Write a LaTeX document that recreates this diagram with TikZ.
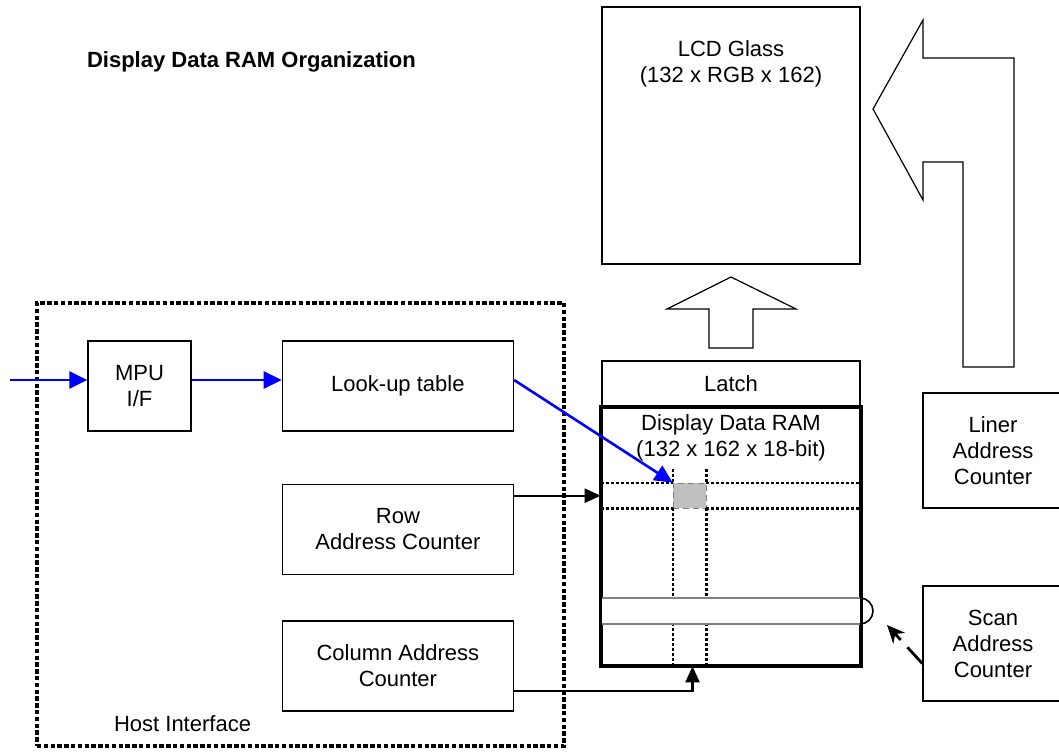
\documentclass[tikz,border=0pt]{standalone}
\usepackage{fontspec}
\setmainfont{Liberation Sans}
\usetikzlibrary{arrows.meta,positioning}
\begin{document}
\begin{tikzpicture}[x=0.5pt, y=-0.5pt, line join=miter,
  every node/.style={font=\fontsize{11}{13}\selectfont},
  box/.style={draw, line width=0.7pt, minimum width=115.5pt, minimum height=45pt, inner sep=0pt, align=center},
  panel/.style={draw, line width=0.7pt, fill=white, minimum width=129pt, inner sep=0pt, align=center},
  hostbox/.style={draw, line width=1.6pt, dash pattern=on 2.2pt off 1.2pt},
  dotline/.style={line width=1.1pt, dash pattern=on 1.5pt off 1pt},
  bluearrow/.style={blue, line width=1.3pt, -{Triangle[length=9pt,width=8.5pt]}},
  blkarrow/.style={line width=1.1pt, -{Triangle[length=8pt,width=7pt]}},
  scanarrow/.style={line width=1.4pt, dash pattern=on 11pt off 5pt, -{Stealth[length=9pt,width=8pt]}},
  fatarrow/.style={draw, line width=0.6pt}]
  \useasboundingbox (0,0) rectangle (1059,753);
  \node[anchor=west, font=\fontsize{11}{13}\selectfont\bfseries] (title) at (80,62) {Display Data RAM Organization};
  % host side
  \node[hostbox, minimum width=263.5pt, minimum height=221.5pt] (host) at (300.5,524.5) {};
  \node[anchor=west] (hostlbl) at (107,724) {Host Interface};
  \node[box, minimum width=51.5pt] (mpu) at (139.5,386) {MPU\\I/F};
  \node[box, right=45pt of mpu] (lut) {Look-up table};
  \node[box, below=26pt of lut] (row) {Row\\Address Counter};
  \node[box, below=22.5pt of row] (col) {Column Address\\Counter};
  % panel side
  \node[panel, minimum height=128.5pt] (lcd) at (731,135.5) {};
  \node[align=center] (lcdtxt) at (731,64) {LCD Glass\\(132 x RGB x 162)};
  \node[panel, minimum height=22.5pt] (latch) at (731,383.5) {Latch};
  \node[panel, line width=1.3pt, minimum height=128.5pt, below=0pt of latch] (ram) {};
  \node[align=center] (ramtxt) at (731,438) {Display Data RAM\\(132 x 162 x 18-bit)};
  \node[box, minimum width=70pt, minimum height=57.5pt] (liner) at (993,450.5) {Liner\\Address\\Counter};
  \node[box, minimum width=70pt, minimum height=57.5pt] (scan) at (993,643.5) {Scan\\Address\\Counter};
  % cell grid
  \node[draw=gray, densely dashed, line width=0.4pt, fill=black!25, minimum width=16.5pt, minimum height=12.5pt, inner sep=0pt] (cell) at (689.5,495.5) {};
  \draw[dotline] (ram.west |- cell.north) -- (cell.north west);
  \draw[dotline] (cell.north east) -- (ram.east |- cell.north);
  \draw[dotline] (ram.west |- cell.south) -- (cell.south west);
  \draw[dotline] (cell.south east) -- (ram.east |- cell.south);
  \draw[dotline] ([yshift=7pt]cell.north west) -- (cell.north west);
  \draw[dotline] ([yshift=7pt]cell.north east) -- (cell.north east);
  \draw[dotline] (cell.south west) -- (cell.south west |- ram.south);
  \draw[dotline] (cell.south east) -- (cell.south east |- ram.south);
  \fill[white] (602,598) rectangle (860,624);
  \draw[gray, line width=0.6pt] (602,598) -- (860,598);
  \draw[gray, line width=0.6pt] (602,624) -- (860,624);
  \draw[line width=0.8pt] (860,598) arc[start angle=90, end angle=-90, radius=6.5pt];
  \draw[line width=1.3pt] (ram.north west) rectangle (ram.south east);
  % fat arrows
  \draw[fatarrow] (731,277) -- (796,309) -- (753,309) -- (753,348) -- (709,348) -- (709,309) -- (667,309) -- cycle;
  \draw[fatarrow] (873,109) -- (923,20) -- (923,58) -- (1014,58) -- (1014,367) -- (963,367) -- (963,162) -- (923,162) -- (923,200) -- cycle;
  % connectors
  \coordinate (in) at (10,380);
  \coordinate (scantip) at (887,625);
  \path ([yshift=-6pt]row.north east) coordinate (r0);
  \path ([yshift=-12.5pt]col.east) coordinate (c0);
  \draw[bluearrow] (in) -- (in -| mpu.west);
  \draw[bluearrow] (mpu.east |- in) -- (in -| lut.west);
  \draw[bluearrow] (lut.east |- in) -- (cell.north west);
  \draw[blkarrow] (r0) -- (r0 -| ram.west);
  \draw[blkarrow] (c0) -| ([xshift=1.5pt]cell.south |- ram.south);
  \draw[scanarrow] ([yshift=-10pt]scan.west) -- (scantip);
\end{tikzpicture}
\end{document}
